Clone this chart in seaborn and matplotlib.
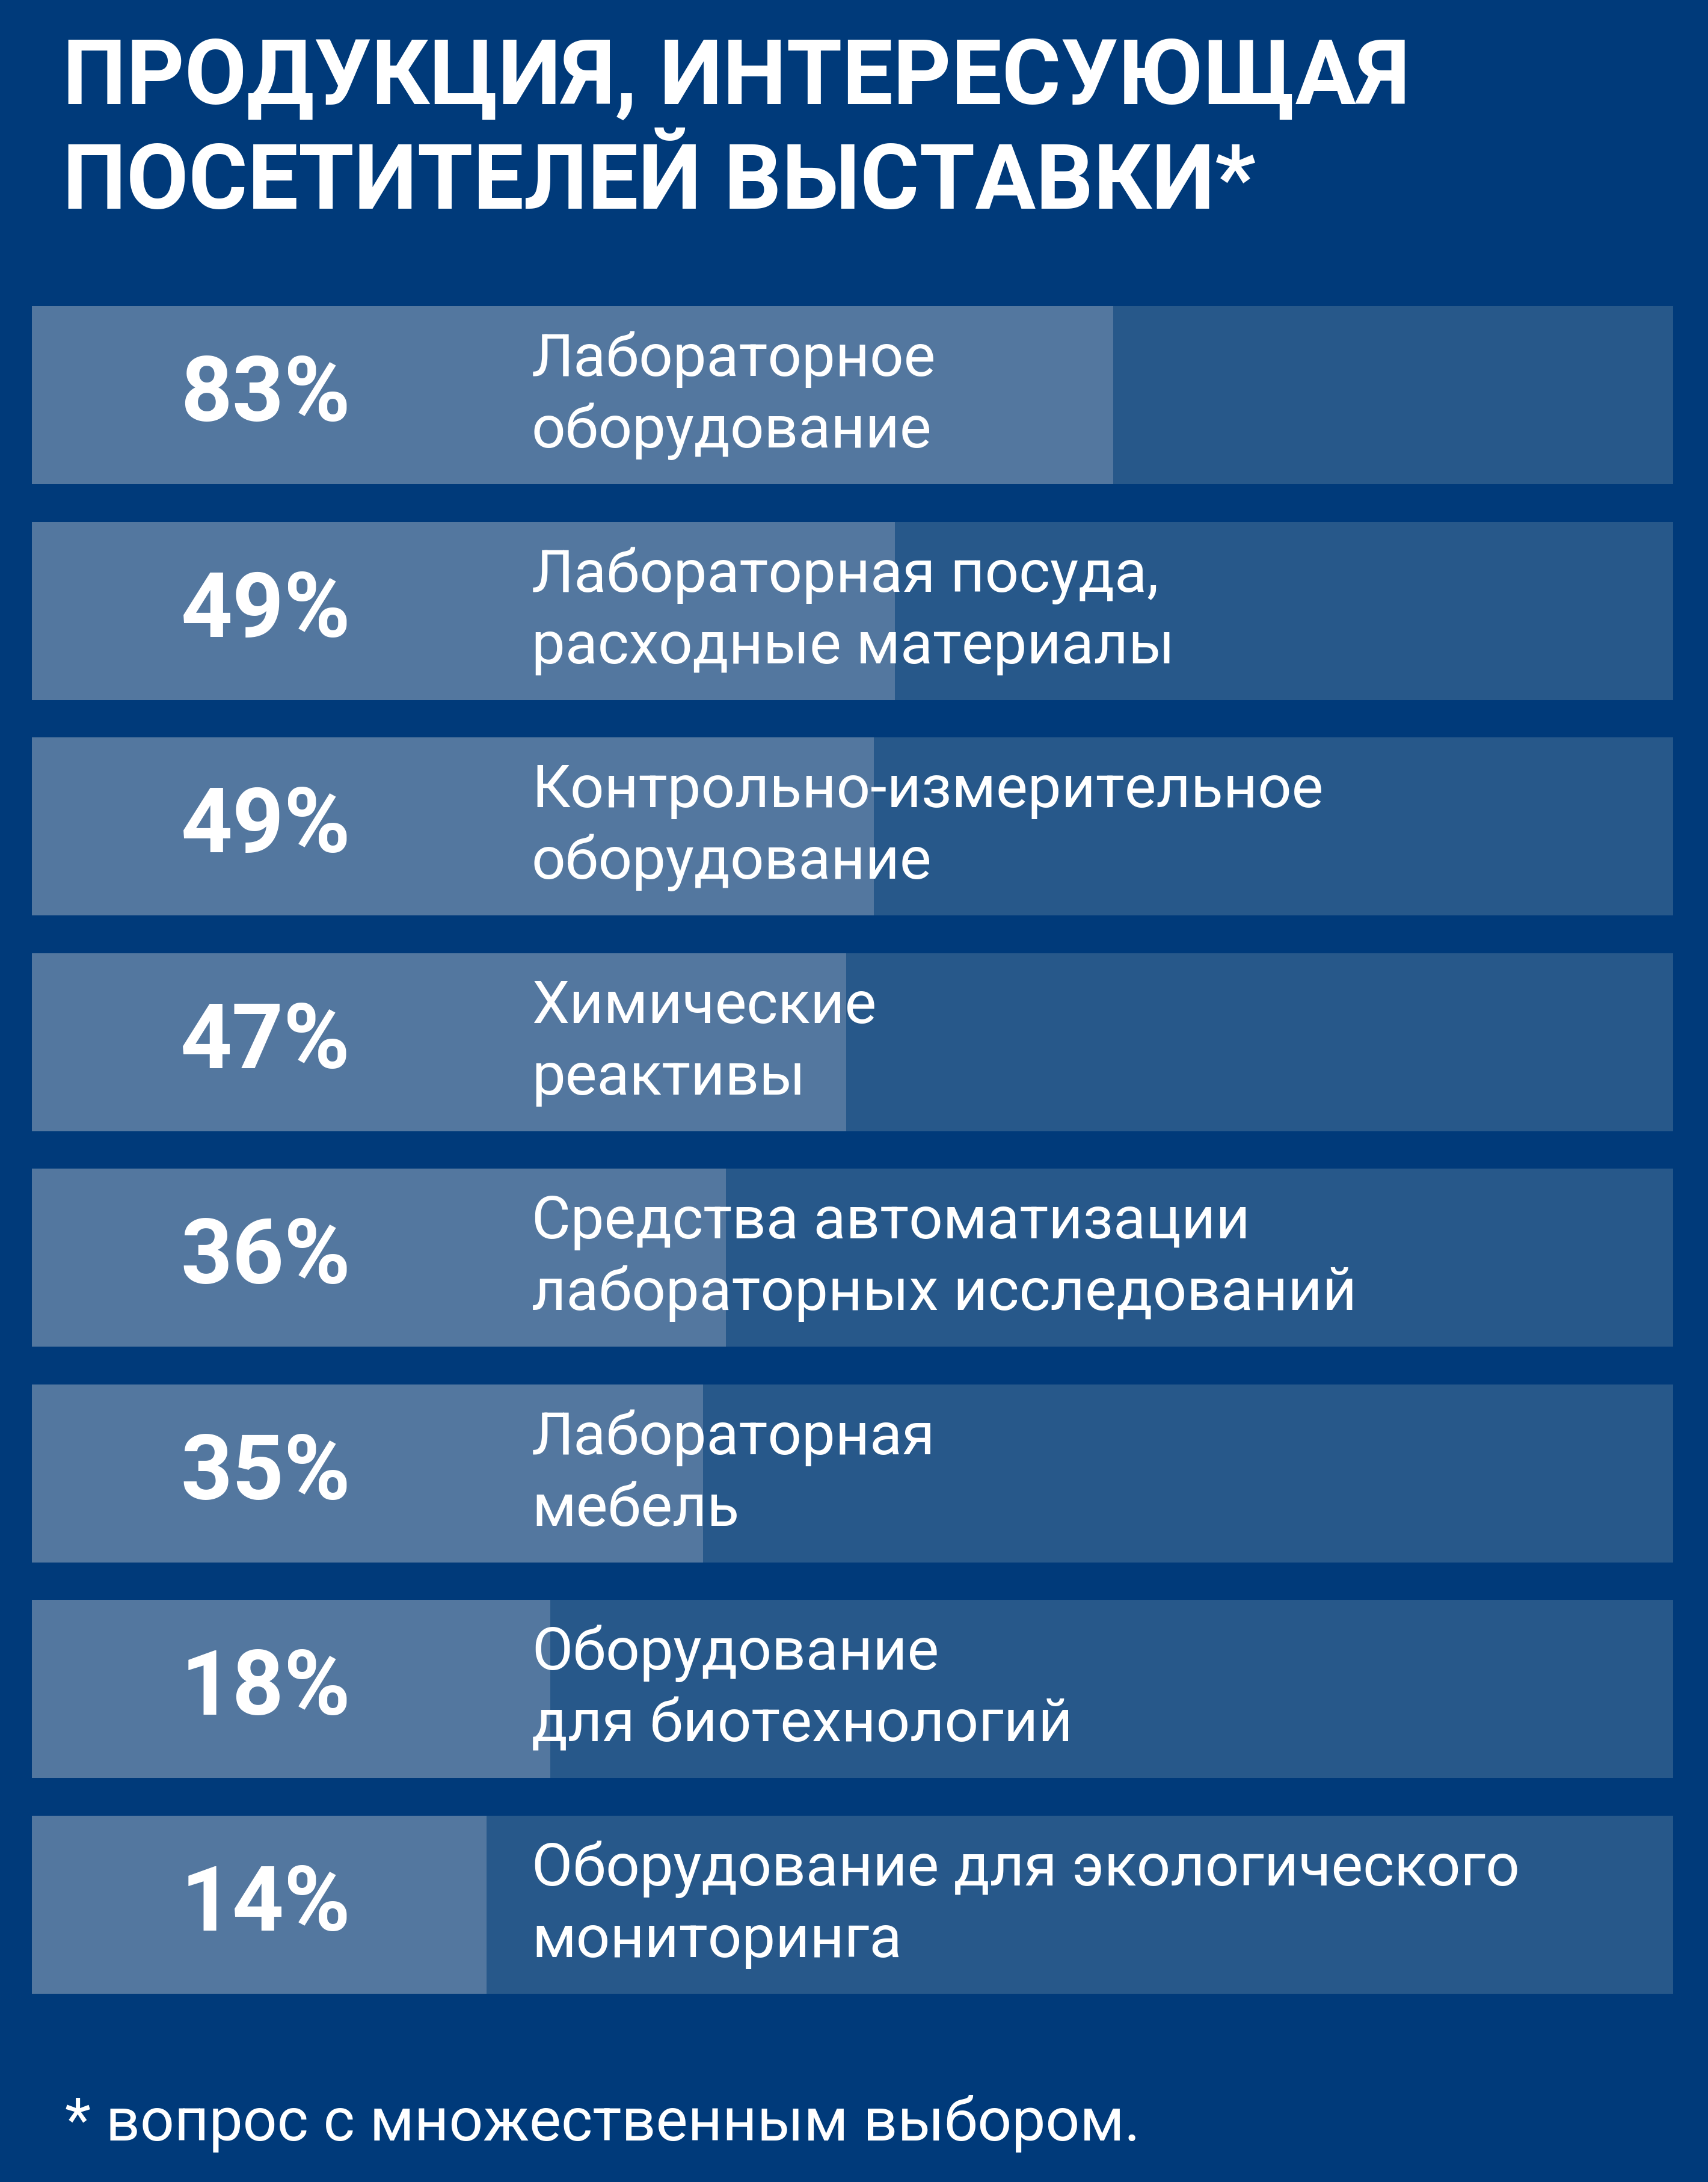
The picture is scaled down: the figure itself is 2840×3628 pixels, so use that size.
import matplotlib
matplotlib.use("Agg")
import matplotlib.pyplot as plt
import seaborn as sns
import pandas as pd

# ---- data ----
categories = [
    "Лабораторное\nоборудование",
    "Лабораторная посуда,\nрасходные материалы",
    "Контрольно-измерительное\nоборудование",
    "Химические\nреактивы",
    "Средства автоматизации\nлабораторных исследований",
    "Лабораторная\nмебель",
    "Оборудование\nдля биотехнологий",
    "Оборудование для экологического\nмониторинга",
]
percent_labels = ["83%", "49%", "49%", "47%", "36%", "35%", "18%", "14%"]
# drawn fill length of each bar, share of the full track
fill_share = [65.9, 52.6, 51.3, 49.6, 42.3, 40.9, 31.6, 27.7]
track_share = [100, 100, 100, 100, 100, 100, 100, 100]

title_lines = ["ПРОДУКЦИЯ, ИНТЕРЕСУЮЩАЯ", "ПОСЕТИТЕЛЕЙ ВЫСТАВКИ*"]
footnote = "* вопрос с множественным выбором."

# ---- style ----
BG = "#003A7A"
TRACK = "#27588A"
FILL = "#53779F"

sns.set_theme(style="white")
plt.rcParams["font.family"] = ["Roboto", "DejaVu Sans"]

W, H = 2840, 3628
fig = plt.figure(figsize=(W / 100, H / 100), dpi=100, facecolor=BG)

df = pd.DataFrame({"category": categories, "track": track_share, "fill": fill_share,
                   "label": percent_labels})

bar_w = 0.826
ax = fig.add_axes([53 / W, 1 - 3315 / H, (2782 - 53) / W, (3315 - 509) / H])
ax.set_facecolor(BG)
sns.barplot(data=df, x="track", y="category", color=TRACK, saturation=1,
            width=bar_w, linewidth=0, ax=ax)
sns.barplot(data=df, x="fill", y="category", color=FILL, saturation=1,
            width=bar_w, linewidth=0, ax=ax)

ax.set_xlim(0, 100)
ax.set_ylim(len(categories) - 1 + bar_w / 2, -bar_w / 2)
ax.set_xlabel("")
ax.set_ylabel("")
ax.set_xticks([])
ax.set_yticks([])
for s in ax.spines.values():
    s.set_visible(False)

px_per_unit = (3315 - 509) / (len(categories) - 1 + bar_w)
for i, row in df.iterrows():
    ax.text(14.25, i + 43 / px_per_unit, row["label"], ha="center", va="baseline",
            color="white", fontsize=108, fontweight="bold")
    lines = row["category"].split("\n")
    for j, ln in enumerate(lines):
        ax.text(30.45, i + (-32 + 119 * j) / px_per_unit, ln, ha="left", va="baseline",
                color="white", fontsize=71.6)

# title
fig.text(104 / W, 1 - 172 / H, title_lines[0], ha="left", va="baseline",
         color="white", fontsize=108, fontweight="bold")
fig.text(104 / W, 1 - 347 / H, title_lines[1], ha="left", va="baseline",
         color="white", fontsize=108, fontweight="bold")

# footnote
fig.text(108 / W, 1 - 3559 / H, footnote, ha="left", va="baseline",
         color="white", fontsize=72)

fig.savefig("out.png", dpi=100, facecolor=BG)
